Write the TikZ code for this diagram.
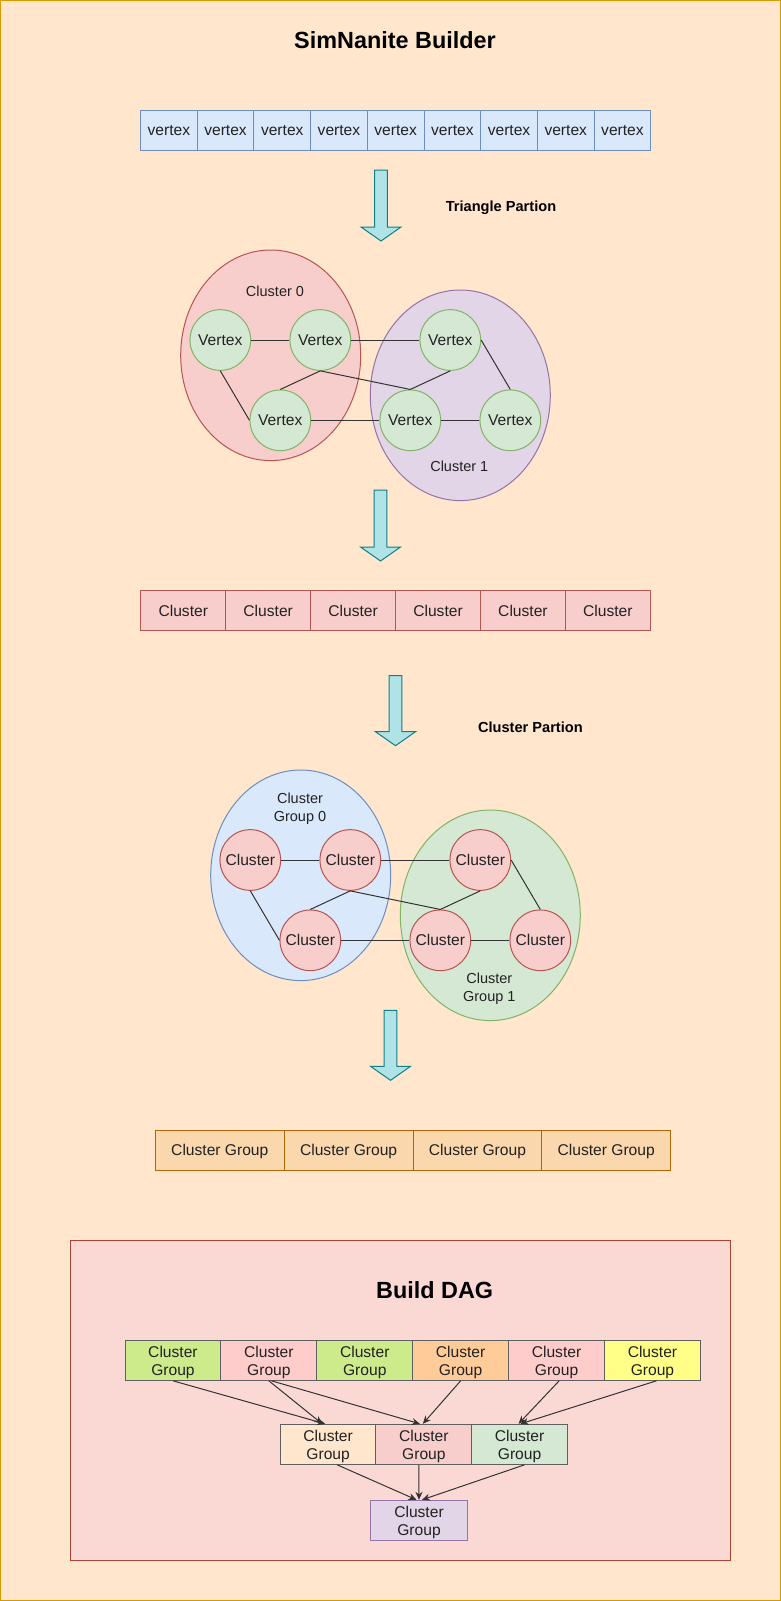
\documentclass[tikz,border=0pt]{standalone}
\usepackage{fontspec}
\setmainfont{Liberation Sans}
\usetikzlibrary{shapes.geometric,arrows.meta}
\definecolor{bgfill}{HTML}{FFE6CC}
\definecolor{bgstroke}{HTML}{D79B00}
\definecolor{bluefill}{HTML}{DAE8FC}
\definecolor{bluestroke}{HTML}{6C8EBF}
\definecolor{arrowfill}{HTML}{B0E3E6}
\definecolor{arrowstroke}{HTML}{0E8088}
\definecolor{redfill}{HTML}{F8CECC}
\definecolor{redstroke}{HTML}{B85450}
\definecolor{purplefill}{HTML}{E1D5E7}
\definecolor{purplestroke}{HTML}{9673A6}
\definecolor{greenfill}{HTML}{D5E8D4}
\definecolor{greenstroke}{HTML}{82B366}
\definecolor{orangefill}{HTML}{FAD7AC}
\definecolor{orangestroke}{HTML}{B46504}
\definecolor{dagfill}{HTML}{FAD9D5}
\definecolor{dagstroke}{HTML}{AE4132}
\definecolor{lime}{HTML}{CDEB8B}
\definecolor{pink}{HTML}{FFCCCC}
\definecolor{peach}{HTML}{FFCC99}
\definecolor{yellowc}{HTML}{FFFF88}
\definecolor{peachlight}{HTML}{FFE6CC}
\definecolor{cellstroke}{HTML}{5F5F5F}
\definecolor{txt}{HTML}{222222}
\definecolor{edgec}{HTML}{333333}
\newcommand{\blockarrow}[4]{%
  \draw[fill=arrowfill,draw=arrowstroke,line width=1pt,line join=miter]
    ({#1-6.3},#2) -- ({#1+6.3},#2) -- ({#1+6.3},#3) -- ({#1+20},#3) -- (#1,#4)
    -- ({#1-20},#3) -- ({#1-6.3},#3) -- cycle;}
\tikzset{
  regtext/.style={font=\fontsize{15.6}{19}\selectfont, text=txt},
  smalltext/.style={font=\fontsize{14.5}{18.3}\selectfont, text=txt, align=center},
  boldlabel/.style={font=\fontsize{14.6}{17}\selectfont\bfseries, text=black},
  bigtitle/.style={font=\fontsize{23.4}{28}\selectfont\bfseries, text=black},
  cellbox/.style={regtext, draw, line width=1pt, inner sep=0pt, minimum height=40pt},
  onerow/.style={text height=11.2pt, text depth=0pt},
  vcell/.style={cellbox, onerow, draw=bluestroke, fill=bluefill, minimum width=56.7pt},
  ccell/.style={cellbox, onerow, draw=redstroke, fill=redfill, minimum width=84.9pt},
  gcell/.style={cellbox, onerow, draw=orangestroke, fill=orangefill, minimum width=128.8pt},
  dcell/.style={cellbox, font=\fontsize{15.6}{18.4}\selectfont, draw=cellstroke, align=center,
                minimum width=95.9pt, text height=31pt, text depth=0pt},
  blob/.style={ellipse, draw, line width=1pt, inner sep=0pt, minimum width=180pt, minimum height=210.6pt},
  dot/.style={circle, draw, line width=1pt, inner sep=0pt, minimum size=60.7pt, regtext, onerow},
  edge/.style={draw=edgec, line width=1pt},
  dagarrow/.style={draw=edgec, line width=1pt, -{Stealth[length=8pt,width=7pt]}},
}
\begin{document}
\begin{tikzpicture}[x=1pt,y=-1pt]
\useasboundingbox (0,0) rectangle (781,1601);
\draw[fill=bgfill, draw=bgstroke, line width=1pt] (0.5,0.5) rectangle (780.5,1600.5);

\node[bigtitle] (title) at (395,40) {SimNanite Builder};

% vertex row
\foreach \i in {1,...,9}
  \node[vcell] (v\i) at ({140.5+56.7*(\i-0.5)},130) {vertex};

\blockarrow{381}{170}{227}{241}
\node[boldlabel] (tp) at (501,208) {Triangle Partion};

% clusters of vertices
\node[blob, draw=redstroke, fill=redfill] (cl0) at (270.7,355.3) {};
\node[blob, draw=purplestroke, fill=purplefill] (cl1) at (460.3,395.3) {};
\node[smalltext] (cl0t) at (275,291.7) {Cluster 0};
\node[smalltext] (cl1t) at (459.3,466) {Cluster 1};
\node[dot, draw=greenstroke, fill=greenfill] (a1) at (220.3,340) {Vertex};
\node[dot, draw=greenstroke, fill=greenfill] (a2) at (320.3,340) {Vertex};
\node[dot, draw=greenstroke, fill=greenfill] (a3) at (450.3,340) {Vertex};
\node[dot, draw=greenstroke, fill=greenfill] (a4) at (280.3,420.3) {Vertex};
\node[dot, draw=greenstroke, fill=greenfill] (a5) at (410.3,420.3) {Vertex};
\node[dot, draw=greenstroke, fill=greenfill] (a6) at (510.3,420.3) {Vertex};
\draw[edge] (a1.east) -- (a2.west);
\draw[edge] (a2.east) -- (a3.west);
\draw[edge] (a1.south) -- (a4.west);
\draw[edge] (a2.south) -- (a4.north);
\draw[edge] (a2.south) -- (a5.north);
\draw[edge] (a3.south) -- (a5.north);
\draw[edge] (a3.east) -- (a6.north);
\draw[edge] (a4.east) -- (a5.west);
\draw[edge] (a5.east) -- (a6.west);

\blockarrow{380.5}{490}{547}{561}

% cluster row
\foreach \i in {1,...,6}
  \node[ccell] (c\i) at ({140.8+84.92*(\i-0.5)},610.5) {Cluster};

\blockarrow{395.5}{675.7}{731.7}{745.7}
\node[boldlabel] (cp) at (530.4,727.7) {Cluster Partion};

% cluster groups
\node[blob, draw=bluestroke, fill=bluefill] (g0) at (300.7,875.3) {};
\node[blob, draw=greenstroke, fill=greenfill] (g1) at (490.3,915.3) {};
\node[smalltext] (g0t) at (300,809) {Cluster\\Group 0};
\node[smalltext] (g1t) at (489.3,989) {Cluster\\Group 1};
\node[dot, draw=redstroke, fill=redfill] (b1) at (250.3,860) {Cluster};
\node[dot, draw=redstroke, fill=redfill] (b2) at (350.3,860) {Cluster};
\node[dot, draw=redstroke, fill=redfill] (b3) at (480.3,860) {Cluster};
\node[dot, draw=redstroke, fill=redfill] (b4) at (310.3,940.3) {Cluster};
\node[dot, draw=redstroke, fill=redfill] (b5) at (440.3,940.3) {Cluster};
\node[dot, draw=redstroke, fill=redfill] (b6) at (540.3,940.3) {Cluster};
\draw[edge] (b1.east) -- (b2.west);
\draw[edge] (b2.east) -- (b3.west);
\draw[edge] (b1.south) -- (b4.west);
\draw[edge] (b2.south) -- (b4.north);
\draw[edge] (b2.south) -- (b5.north);
\draw[edge] (b3.south) -- (b5.north);
\draw[edge] (b3.east) -- (b6.north);
\draw[edge] (b4.east) -- (b5.west);
\draw[edge] (b5.east) -- (b6.west);

\blockarrow{390.5}{1010.3}{1066.3}{1080.3}

% cluster group row
\foreach \i in {1,...,4}
  \node[gcell] (cg\i) at ({155.4+128.8*(\i-0.5)},1150.3) {Cluster Group};

% Build DAG
\draw[fill=dagfill, draw=dagstroke, line width=1pt] (70,1240.3) rectangle (730.9,1560.7);
\node[bigtitle] (dagt) at (434.7,1290) {Build DAG};

\foreach \i/\c in {1/lime,2/pink,3/lime,4/peach,5/pink,6/yellowc}
  \node[dcell, fill=\c] (t\i) at ({125+95.9*(\i-0.5)},1360.3) {Cluster\\Group};
\node[dcell, fill=peachlight] (m1) at (328.15,1444.3) {Cluster\\Group};
\node[dcell, fill=redfill] (m2) at (423.85,1444.3) {Cluster\\Group};
\node[dcell, fill=greenfill] (m3) at (519.55,1444.3) {Cluster\\Group};
\node[dcell, fill=purplefill, draw=purplestroke, minimum width=97.1pt] (bt) at (419,1520.3) {Cluster\\Group};

\draw[dagarrow] (t1.south) -- ([xshift=-3pt]m1.north);
\draw[dagarrow] (t2.south) -- ([xshift=-6pt]m1.north);
\draw[dagarrow] ([xshift=2.6pt]t2.south) -- ([xshift=-4pt]m2.north);
\draw[dagarrow] (t4.south) -- ([xshift=-1pt]m2.north);
\draw[dagarrow] ([xshift=2.6pt]t5.south) -- ([xshift=-1pt]m3.north);
\draw[dagarrow] ([xshift=4pt]t6.south) -- ([xshift=1pt]m3.north);
\draw[dagarrow] ([xshift=9pt]m1.south) -- ([xshift=-2.5pt]bt.north);
\draw[dagarrow] ([xshift=-5pt]m2.south) -- (bt.north);
\draw[dagarrow] ([xshift=5pt]m3.south) -- ([xshift=3pt]bt.north);
\end{tikzpicture}
\end{document}
